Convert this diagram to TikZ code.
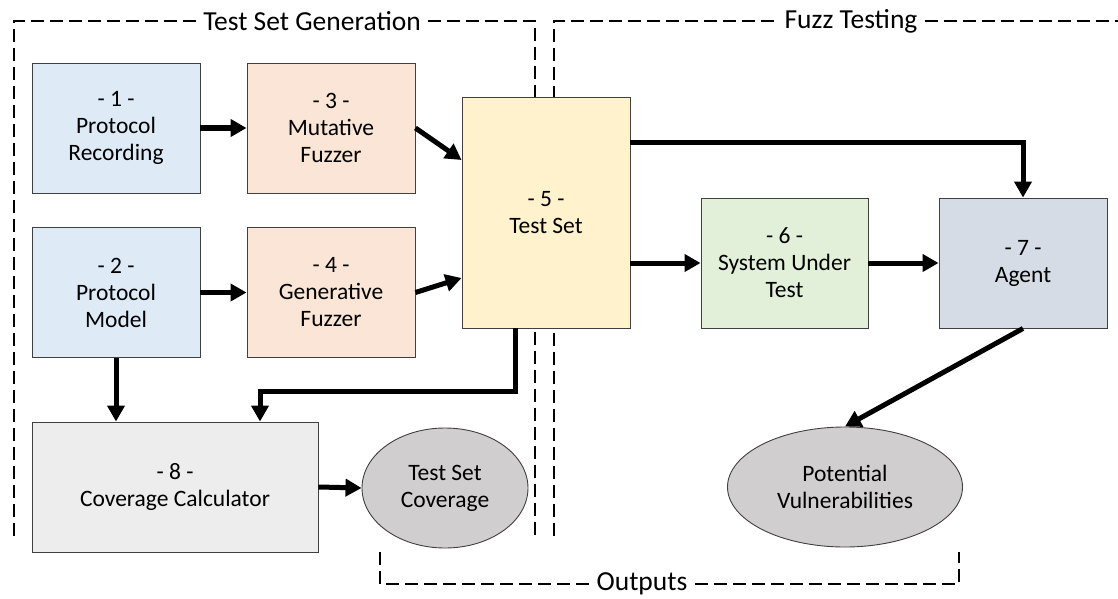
\documentclass[tikz,border=0pt]{standalone}
\usepackage{fontspec}
\setmainfont{Carlito}
\usetikzlibrary{arrows.meta,shapes.geometric}

\definecolor{recblue}{RGB}{222,235,247}
\definecolor{fuzzorange}{RGB}{251,229,214}
\definecolor{setyellow}{RGB}{255,242,204}
\definecolor{sutgreen}{RGB}{226,240,217}
\definecolor{agentgray}{RGB}{214,220,229}
\definecolor{calcgray}{RGB}{237,237,237}
\definecolor{outgray}{RGB}{208,206,206}

\tikzset{
  block/.style={draw=black!75, line width=0.9pt, align=center, inner sep=2pt,
    minimum width=168pt, minimum height=130pt,
    font=\fontsize{23.5}{27}\selectfont},
  result/.style={ellipse, draw=black!75, line width=0.9pt, fill=outgray,
    align=center, inner sep=0pt, font=\fontsize{23.5}{27}\selectfont},
  flow/.style={line width=5pt, -{Triangle[length=16pt,width=17pt]}},
  region/.style={dash pattern=on 13pt off 6pt, line width=1.8pt},
  regionlabel/.style={inner sep=7pt, font=\fontsize{27.5}{30}\selectfont}
}

\begin{document}
\begin{tikzpicture}[x=1pt,y=-1pt]
  \useasboundingbox (0,0) rectangle (1118,599);

  % regions (behind the blocks)
  \node[regionlabel] (gentitle) at (312,21) {Test Set Generation};
  \node[regionlabel] (fuzztitle) at (851,21) {Fuzz Testing};
  \node[regionlabel] (outtitle) at (642,584) {Outputs};
  \draw[region] (14,536) |- (gentitle.west);
  \draw[region] (gentitle.east) -| (535,536);
  \draw[region] (554,536) |- (fuzztitle.west);
  \draw[region] (fuzztitle.east) -- (1118,21);
  \draw[region] (380,552) |- (outtitle.west);
  \draw[region] (outtitle.east) -| (959,552);

  % blocks
  \node[block, fill=recblue] (rec) at (116,128) {- 1 -\\Protocol\\Recording};
  \node[block, fill=recblue] (model) at (116,292.5) {- 2 -\\Protocol\\Model};
  \node[block, fill=fuzzorange] (mut) at (331,128) {- 3 -\\Mutative\\Fuzzer};
  \node[block, fill=fuzzorange] (gen) at (331,292.5) {- 4 -\\Generative\\Fuzzer};
  \node[block, fill=setyellow, minimum height=231pt] (set) at (546,212.5) {- 5 -\\Test Set};
  \node[block, fill=sutgreen, minimum width=167pt] (sut) at (784.5,263) {- 6 -\\System Under\\Test};
  \node[block, fill=agentgray] (agent) at (1023,263) {- 7 -\\Agent};
  \node[block, fill=calcgray, minimum width=286pt] (calc) at (175,487) {- 8 -\\Coverage Calculator};

  % outputs
  \node[result, minimum width=166pt, minimum height=120pt] (cov) at (445,488) {Test Set\\Coverage};
  \node[result, minimum width=235pt, minimum height=120pt] (vuln) at (845,487) {Potential\\Vulnerabilities};

  % connectors
  \draw[flow] (rec) -- (mut);
  \draw[flow] (model) -- (gen);
  \draw[flow] (mut.east) -- ([yshift=52.5pt]set.west);
  \draw[flow] (gen.east) -- ([yshift=-65.5pt]set.west);
  \draw[flow] ([yshift=70.5pt]set.east) -| (agent.north);
  \draw[flow] (set.east |- sut.west) -- (sut.west);
  \draw[flow] (sut) -- (agent);
  \draw[flow] (agent.south) -- (vuln.north);
  \draw[flow] (model.south) -- (model.south |- calc.north);
  \draw[flow] ([xshift=-31pt]set.south) -- ++(0,63) -| ([xshift=85pt]calc.north);
  \draw[flow] (calc.east) -- (cov.west);
\end{tikzpicture}
\end{document}
